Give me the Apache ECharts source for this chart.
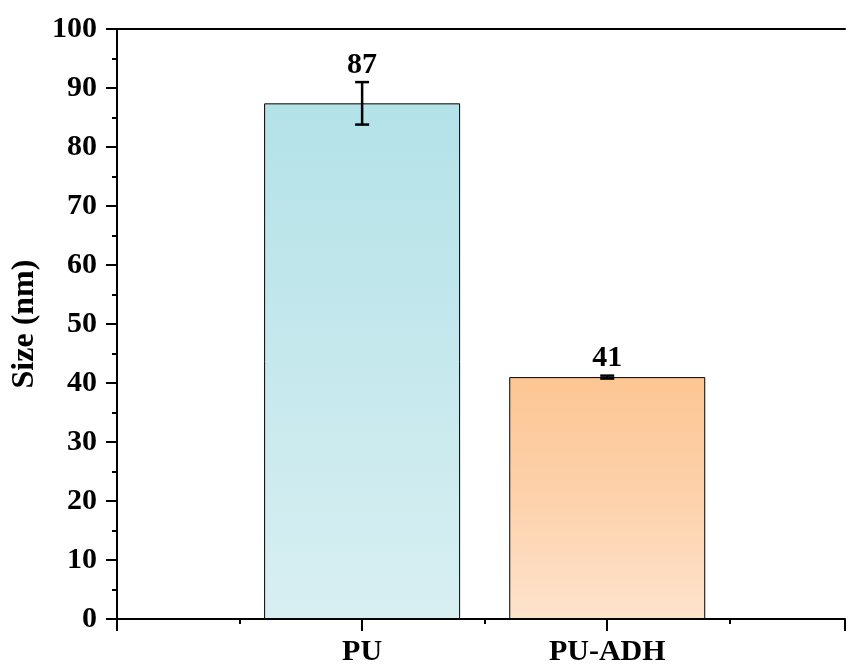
<!DOCTYPE html>
<html>
<head>
<meta charset="utf-8">
<script src="https://cdn.jsdelivr.net/npm/echarts@6/dist/echarts.min.js"></script>
<style>html,body{margin:0;padding:0;background:#fff;}#c{width:848px;height:669px;}</style>
</head>
<body>
<div id="c"></div>
<script>
const categories = ["PU", "PU-ADH"];
const sizes = [87.4, 41.0];
const errors = [3.6, 0.25];
const valueLabels = ["87", "41"];
const yTicks = [0, 10, 20, 30, 40, 50, 60, 70, 80, 90, 100];

const FONT = "Liberation Serif";
const gradients = [
  new echarts.graphic.LinearGradient(0, 0, 0, 1, [
    {offset: 0, color: '#b3e2e8'}, {offset: 1, color: '#d8eff2'}
  ]),
  new echarts.graphic.LinearGradient(0, 0, 0, 1, [
    {offset: 0, color: '#fcc693'}, {offset: 0.45, color: '#fdd0a9'}, {offset: 1, color: '#fde3cd'}
  ])
];

const chart = echarts.init(document.getElementById('c'), null, {renderer: 'canvas'});
chart.setOption({
  animation: false,
  backgroundColor: '#fff',
  grid: {left: 117, right: 0, top: 29, bottom: 50, containLabel: false},
  xAxis: [{
    type: 'value', min: 0, max: 2.97, interval: 1,
    position: 'bottom',
    splitLine: {show: false},
    axisLine: {show: true, lineStyle: {color: '#000', width: 2}},
    axisTick: {show: true, length: 12, lineStyle: {color: '#000', width: 2}},
    minorTick: {show: true, splitNumber: 2, length: 5, lineStyle: {color: '#000', width: 2}},
    axisLabel: {
      margin: 18, color: '#000', fontFamily: FONT, fontWeight: 'bold', fontSize: 30,
      formatter: v => (v >= 1 && v <= categories.length && Number.isInteger(v)) ? categories[v - 1] : ''
    }
  }, {
    type: 'value', min: 0, max: 2.97, position: 'top',
    splitLine: {show: false},
    axisLine: {show: true, lineStyle: {color: '#000', width: 2}},
    axisTick: {show: false}, axisLabel: {show: false}
  }],
  yAxis: {
    type: 'value', min: yTicks[0], max: yTicks[yTicks.length - 1], interval: 10,
    name: 'Size (nm)', nameLocation: 'middle', nameGap: 71,
    nameTextStyle: {color: '#000', fontFamily: FONT, fontWeight: 'bold', fontSize: 32},
    splitLine: {show: false},
    axisLine: {show: true, lineStyle: {color: '#000', width: 2}},
    axisTick: {show: true, length: 11, lineStyle: {color: '#000', width: 2}},
    minorTick: {show: true, splitNumber: 2, length: 5, lineStyle: {color: '#000', width: 2}},
    axisLabel: {margin: 20, color: '#000', fontFamily: FONT, fontWeight: 'bold', fontSize: 30}
  },
  series: [{
    type: 'bar',
    barWidth: 196,
    data: sizes.map((v, i) => ({
      value: [i + 1, v],
      itemStyle: {color: gradients[i], borderColor: '#000', borderWidth: 1}
    }))
  }, {
    type: 'custom',
    z: 5,
    data: sizes.map((v, i) => [i + 1, v, errors[i], i]),
    renderItem: function (params, api) {
      const x = api.value(0), v = api.value(1), e = api.value(2), idx = api.value(3);
      const top = api.coord([x, v + e]);
      const bot = api.coord([x, v - e]);
      const hw = 7;
      const style = {stroke: '#000', lineWidth: 2.5};
      return {
        type: 'group',
        children: [
          {type: 'line', shape: {x1: top[0], y1: top[1], x2: bot[0], y2: bot[1]}, style: style},
          {type: 'line', shape: {x1: top[0] - hw, y1: top[1], x2: top[0] + hw, y2: top[1]}, style: style},
          {type: 'line', shape: {x1: bot[0] - hw, y1: bot[1], x2: bot[0] + hw, y2: bot[1]}, style: style},
          {type: 'text', x: top[0], y: top[1] - 2,
           style: {text: valueLabels[idx], fill: '#000', font: 'bold 30px "Liberation Serif"',
                   textAlign: 'center', textVerticalAlign: 'bottom'}}
        ]
      };
    }
  }]
});
</script>
</body>
</html>
